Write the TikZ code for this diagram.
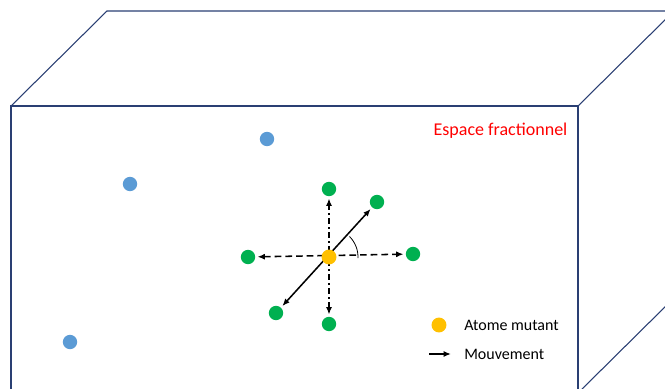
\documentclass[tikz,border=0pt]{standalone}
\usepackage{fontspec}
\setmainfont{Carlito}
\usetikzlibrary{arrows.meta,backgrounds}
\definecolor{boxblue}{HTML}{2A3F73}
\definecolor{atomblue}{HTML}{5B9BD5}
\definecolor{atomgreen}{HTML}{00B050}
\definecolor{atomorange}{HTML}{FFC000}
\begin{document}
\begin{tikzpicture}[x=0.75pt,y=-0.75pt,
  >={Latex[length=5.5pt,width=4.5pt]},
  edge/.style={draw=boxblue,line width=0.8pt},
  atom/.style={circle,inner sep=0pt,minimum size=10.8pt},
  blueatom/.style={atom,fill=atomblue},
  greenatom/.style={atom,fill=atomgreen},
  mutant/.style={atom,fill=atomorange,minimum size=11.2pt},
  mv/.style={line width=1.15pt,shorten <=1.5pt,shorten >=1.5pt},
  dashdot/.style={dash pattern=on 4.5pt off 2.5pt on 1pt off 2.5pt},
  dashline/.style={dash pattern=on 5pt off 3pt},
  lbl/.style={inner sep=0pt,anchor=west,font=\fontsize{12}{14}\selectfont}
 ]
\useasboundingbox (0,0) rectangle (665,389);
\clip (0,0) rectangle (665,389);
% box corners
\coordinate (F1) at (11,106);
\coordinate (F2) at (578,106);
\coordinate (F3) at (578,393);
\coordinate (F4) at (11,400);
\coordinate (B1) at (107,11);
\coordinate (B2) at (674,11);
\coordinate (B3) at (674,298);
\draw[edge] (F4) -- (F1) -- (F2) -- (F3);
\draw[edge] (F1) -- (B1) -- (B2);
\draw[edge] (F2) -- (B2);
\draw[edge] (F3) -- (B3);
% atoms
\node[blueatom] (a1) at (267,139) {};
\node[blueatom] (a2) at (130,184) {};
\node[blueatom] (a3) at (70,342) {};
\node[greenatom] (gt) at (329,189) {};
\node[greenatom] (gur) at (377,202) {};
\node[greenatom] (gr) at (413,254) {};
\node[greenatom] (gl) at (248,257) {};
\node[greenatom] (gll) at (276,313) {};
\node[greenatom] (gb) at (329,324) {};
\node[mutant] (c) at (329,257) {};
\begin{pgfonlayer}{background}
\draw[mv,dashdot,<->] (gb) -- (gt);
\draw[mv,dashline,<->] (gl) -- (gr);
\draw[mv,<->] (gll) -- (gur);
\coordinate (arcstart) at (349.5,236.5);
\draw[line width=0.6pt] (arcstart) arc[start angle=45,end angle=-2,radius=21.75pt];
\end{pgfonlayer}
% labels
\node[text=red,font=\fontsize{13.5}{16}\selectfont,inner sep=0pt] (title) at (500.5,131) {Espace fractionnel};
\node[mutant] (legdot) at (439,325) {};
\node[lbl] (legt1) at (464,325) {Atome mutant};
\coordinate (la) at (429,354);
\coordinate (lb) at (451,354);
\draw[line width=1.15pt,->] (la) -- (lb);
\node[lbl] (legt2) at (464,354) {Mouvement};
\end{tikzpicture}
\end{document}
